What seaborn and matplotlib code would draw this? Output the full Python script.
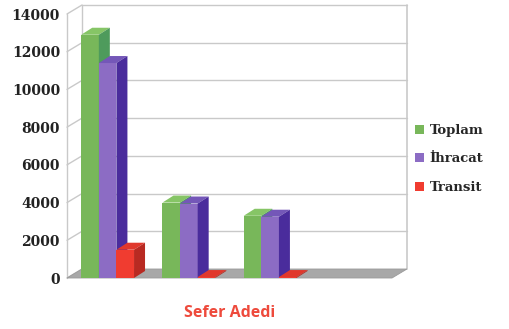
import numpy as np
import pandas as pd
import seaborn as sns
import matplotlib.pyplot as plt
from matplotlib.patches import Polygon, Patch

# ---- data ----
gruplar = ['1', '2', '3', '4']
seriler = ['Toplam', 'İhracat', 'Transit']
toplam  = [12900, 4000, 3300, np.nan]
ihracat = [11400, 3950, 3250, np.nan]
transit = [1500, 50, 50, np.nan]
yticks  = list(range(0, 14001, 2000))

on_renk  = {'Toplam': '#78b75a', 'İhracat': '#8c6cc4', 'Transit': '#f03c30'}
ust_renk = {'Toplam': '#86c566', 'İhracat': '#7457b8', 'Transit': '#e0382c'}
yan_renk = {'Toplam': '#4e9b5c', 'İhracat': '#4a2c9c', 'Transit': '#b82a22'}

df = pd.DataFrame({
    'grup':  gruplar * 3,
    'tur':   ['Toplam'] * 4 + ['İhracat'] * 4 + ['Transit'] * 4,
    'sefer': toplam + ihracat + transit,
})

sns.set_style('white')
plt.rcParams['font.family'] = ['DejaVu Serif']

fig = plt.figure(figsize=(5.09, 3.29), dpi=100)
W, H = 509, 329
ax = fig.add_axes([67 / W, 51 / H, 325 / W, 264 / H])

sns.barplot(data=df, x='grup', y='sefer', hue='tur', order=gruplar,
            hue_order=seriler, palette=on_renk, width=0.65, saturation=1,
            edgecolor='none', linewidth=0, legend=False, ax=ax)

ax.set_xlim(-0.5, 3.5)
ax.set_ylim(0, 14000)

# depth of the walls and of the bars, in data units
px_x = 81.25
px_y = 264 / 14000
wdx, wdy = 15 / px_x, 9 / px_y
bdx, bdy = 11 / px_x, 7 / px_y

x0, x1 = -0.5, 3.5
grid_c = '#c9c9c9'

# floor
ax.add_patch(Polygon([(x0, 0), (x1, 0), (x1 + wdx, wdy), (x0 + wdx, wdy)],
                     closed=True, facecolor='#a8a8a8', edgecolor='#9a9a9a',
                     lw=0.6, zorder=1, clip_on=False))

# back wall grid + left wall slants
for yv in yticks:
    if yv > 0:
        ax.plot([x0 + wdx, x1 + wdx], [yv + wdy, yv + wdy], color=grid_c,
                lw=1.0, zorder=0.5, clip_on=False)
    ax.plot([x0, x0 + wdx], [yv, yv + wdy], color=grid_c, lw=1.0,
            zorder=0.5, clip_on=False)
ax.plot([x0 + wdx, x0 + wdx], [wdy, 14000 + wdy], color=grid_c, lw=1.0,
        zorder=0.5, clip_on=False)
ax.plot([x1 + wdx, x1 + wdx], [wdy, 14000 + wdy], color=grid_c, lw=1.2,
        zorder=0.5, clip_on=False)
ax.plot([x0, x0], [0, 14000], color=grid_c, lw=1.0, zorder=0.5, clip_on=False)

# 3D tops and sides for each bar
for i, (tur, cont) in enumerate(zip(seriler, ax.containers)):
    for rect in cont:
        h = rect.get_height()
        if np.isnan(h):
            continue
        bx, bw = rect.get_x(), rect.get_width()
        z = 3 + i
        rect.set_zorder(z)
        ax.add_patch(Polygon([(bx, h), (bx + bw, h), (bx + bw + bdx, h + bdy),
                              (bx + bdx, h + bdy)], closed=True,
                             facecolor=ust_renk[tur], edgecolor='none',
                             zorder=z, clip_on=False))
        ax.add_patch(Polygon([(bx + bw, 0), (bx + bw + bdx, bdy),
                              (bx + bw + bdx, h + bdy), (bx + bw, h)],
                             closed=True, facecolor=yan_renk[tur],
                             edgecolor='none', zorder=z, clip_on=False))

for s in ax.spines.values():
    s.set_visible(False)

ax.set_xticks([0.5, 1.5, 2.5, 3.5])
ax.set_xticklabels([])
ax.tick_params(axis='x', length=4, width=1, color='#bbbbbb', direction='out')
ax.set_yticks(yticks)
ax.set_yticklabels([str(v) for v in yticks], fontsize=10, fontweight='bold',
                   color='#222222')
ax.tick_params(axis='y', length=3, width=1, color=grid_c, pad=2)

ax.set_ylabel('')
ax.set_xlabel('Sefer Adedi', fontsize=11.5, fontweight='bold',
              color='#ee4a3c', family='Open Sans')
ax.xaxis.set_label_coords((230 - 67) / 325, (278 - 313) / 264)
ax.xaxis.label.set_va('center')

handles = [Patch(facecolor=on_renk[s], edgecolor='none') for s in seriler]
fig.legend(handles, seriler, loc='upper left',
           bbox_to_anchor=(415 / W, 1 - 124 / H), frameon=False,
           prop={'family': 'DejaVu Serif', 'weight': 'bold', 'size': 9.5},
           handlelength=0.7, handleheight=0.7, handletextpad=0.4,
           labelspacing=1.17, borderpad=0, borderaxespad=0)

fig.savefig('out.png', dpi=100)
